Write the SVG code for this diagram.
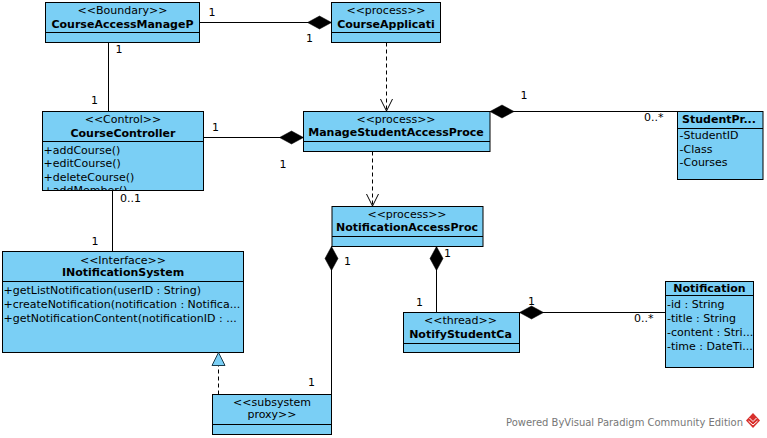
<svg xmlns="http://www.w3.org/2000/svg" width="767" height="438" viewBox="0 0 767 438">
  <style>
    .box { fill: #7ACFF5; stroke: #000; stroke-width: 1; }
    .sep { stroke: #000; stroke-width: 1; fill: none; }
    .t { font-family: "DejaVu Sans", "Liberation Sans", sans-serif; font-size: 11px; fill: #000; }
    .b { font-weight: bold; }
    .c { text-anchor: middle; }
    .ln { stroke: #000; stroke-width: 1; fill: none; }
    .dash { stroke-dasharray: 4 3; }
    .wm { font-family: "DejaVu Sans", "Liberation Sans", sans-serif; font-size: 10px; fill: #777; }
  </style>
  <defs>
    <!-- filled composition diamond, drawn from the whole end outward -->
    <marker id="diamond" markerUnits="userSpaceOnUse" viewBox="-1 -8 26 16" markerWidth="26" markerHeight="16" refX="0" refY="0" orient="auto" overflow="visible">
      <polygon points="0,0 12,-6.5 24,0 12,6.5" fill="#000" stroke="#000" stroke-width="0.5"/>
    </marker>
    <!-- open dependency arrowhead -->
    <marker id="open" markerUnits="userSpaceOnUse" viewBox="-14 -8 16 16" markerWidth="16" markerHeight="16" refX="0" refY="0" orient="auto" overflow="visible">
      <polyline points="-12,-6 0,0 -12,6" fill="none" stroke="#000" stroke-width="1"/>
    </marker>
    <!-- hollow realization triangle -->
    <marker id="tri" markerUnits="userSpaceOnUse" viewBox="-15 -8 16 16" markerWidth="16" markerHeight="16" refX="0" refY="0" orient="auto" overflow="visible">
      <polygon points="0,0 -13,-6.5 -13,6.5" fill="#7ACFF5" stroke="#1a3a4a" stroke-width="1"/>
    </marker>
    <clipPath id="ccBody">
      <rect x="43" y="142" width="160" height="48.5"/>
    </clipPath>
  </defs>

  <rect width="767" height="438" fill="#fff"/>

  <!-- classes -->
  <g id="CourseAccessManageP">
    <rect class="box" x="45.5" y="2.5" width="154" height="40"/>
    <line class="sep" x1="45.5" y1="32.5" x2="199.5" y2="32.5"/>
    <text class="t c" x="122.5" y="14">&lt;&lt;Boundary&gt;&gt;</text>
    <text class="t b c" x="122.5" y="28">CourseAccessManageP</text>
  </g>

  <g id="CourseApplicati">
    <rect class="box" x="331.5" y="2.5" width="109" height="40"/>
    <line class="sep" x1="331.5" y1="32.5" x2="440.5" y2="32.5"/>
    <text class="t c" x="386" y="14">&lt;&lt;process&gt;&gt;</text>
    <text class="t b c" x="386" y="28">CourseApplicati</text>
  </g>

  <g id="CourseController">
    <rect class="box" x="42.5" y="111.5" width="161" height="79"/>
    <line class="sep" x1="42.5" y1="141.5" x2="203.5" y2="141.5"/>
    <text class="t c" x="123" y="123">&lt;&lt;Control&gt;&gt;</text>
    <text class="t b c" x="123" y="137">CourseController</text>
    <g clip-path="url(#ccBody)">
      <text class="t" x="43.5" y="153.5">+addCourse()</text>
      <text class="t" x="43.5" y="167">+editCourse()</text>
      <text class="t" x="43.5" y="180.5">+deleteCourse()</text>
      <text class="t" x="43.5" y="194">+addMember()</text>
    </g>
  </g>

  <g id="ManageStudentAccessProce">
    <rect class="box" x="303.5" y="111.5" width="186.5" height="40"/>
    <line class="sep" x1="303.5" y1="141.5" x2="490" y2="141.5"/>
    <text class="t c" x="396" y="123">&lt;&lt;process&gt;&gt;</text>
    <text class="t b c" x="396" y="136">ManageStudentAccessProce</text>
  </g>

  <g id="StudentPr">
    <rect class="box" x="677.5" y="111.5" width="85.5" height="68"/>
    <line class="sep" x1="677.5" y1="128.5" x2="763" y2="128.5"/>
    <text class="t b c" x="719" y="123">StudentPr...</text>
    <text class="t" x="679.5" y="138.5">-StudentID</text>
    <text class="t" x="679.5" y="152.5">-Class</text>
    <text class="t" x="679.5" y="166">-Courses</text>
  </g>

  <g id="NotificationAccessProc">
    <rect class="box" x="332" y="206.5" width="151" height="40"/>
    <line class="sep" x1="332" y1="236.5" x2="483" y2="236.5"/>
    <text class="t c" x="407" y="218">&lt;&lt;process&gt;&gt;</text>
    <text class="t b c" x="407" y="231">NotificationAccessProc</text>
  </g>

  <g id="INotificationSystem">
    <rect class="box" x="2.5" y="251.5" width="241" height="101"/>
    <line class="sep" x1="2.5" y1="281.5" x2="243.5" y2="281.5"/>
    <text class="t c" x="123" y="263.5">&lt;&lt;Interface&gt;&gt;</text>
    <text class="t b c" x="123" y="276">INotificationSystem</text>
    <text class="t" x="3.5" y="293.5">+getListNotification(userID : String)</text>
    <text class="t" x="3.5" y="308">+createNotification(notification : Notifica...</text>
    <text class="t" x="3.5" y="322">+getNotificationContent(notificationID : ...</text>
  </g>

  <g id="NotifyStudentCa">
    <rect class="box" x="403.5" y="312.5" width="116" height="40"/>
    <line class="sep" x1="403.5" y1="343.5" x2="519.5" y2="343.5"/>
    <text class="t c" x="460.5" y="324">&lt;&lt;thread&gt;&gt;</text>
    <text class="t b c" x="460.5" y="337.5">NotifyStudentCa</text>
  </g>

  <g id="Notification">
    <rect class="box" x="665.5" y="281.5" width="88" height="86"/>
    <line class="sep" x1="665.5" y1="295.5" x2="753.5" y2="295.5"/>
    <text class="t b c" x="709.5" y="292">Notification</text>
    <text class="t" x="667" y="308">-id : String</text>
    <text class="t" x="667" y="322">-title : String</text>
    <text class="t" x="667" y="336">-content : Stri...</text>
    <text class="t" x="667" y="350">-time : DateTi...</text>
  </g>

  <g id="SubsystemProxy">
    <rect class="box" x="212.5" y="394.5" width="119" height="40"/>
    <line class="sep" x1="212.5" y1="424.5" x2="331.5" y2="424.5"/>
    <text class="t c" x="272" y="405.5">&lt;&lt;subsystem</text>
    <text class="t c" x="272" y="418">proxy&gt;&gt;</text>
  </g>

  <!-- connectors -->
  <g id="connectors">
    <path class="ln" d="M331.5,22.5 H199.5" marker-start="url(#diamond)"/>
    <path class="ln" d="M108.5,42.5 V111.5"/>
    <path class="ln" d="M303.5,137.5 H203.5" marker-start="url(#diamond)"/>
    <path class="ln" d="M490,111.5 H677.5" marker-start="url(#diamond)"/>
    <path class="ln dash" d="M386.5,42.5 V111" marker-end="url(#open)"/>
    <path class="ln dash" d="M372.5,151.5 V206" marker-end="url(#open)"/>
    <path class="ln" d="M112.5,190.5 V251.5"/>
    <path class="ln" d="M331.5,246.5 V394.5" marker-start="url(#diamond)"/>
    <path class="ln" d="M436.5,246.5 V312.5" marker-start="url(#diamond)"/>
    <path class="ln" d="M519.5,312.5 H665.5" marker-start="url(#diamond)"/>
    <path class="ln dash" d="M218.5,394.5 V352.5" marker-end="url(#tri)"/>

    <g class="t">
      <text x="208.5" y="16">1</text>
      <text x="306" y="42">1</text>
      <text x="115.5" y="53">1</text>
      <text x="91" y="104">1</text>
      <text x="212" y="131">1</text>
      <text x="279.5" y="168">1</text>
      <text x="520.5" y="99">1</text>
      <text x="644" y="121">0..*</text>
      <text x="120" y="202">0..1</text>
      <text x="91.5" y="245">1</text>
      <text x="344" y="265">1</text>
      <text x="444" y="257">1</text>
      <text x="416" y="306">1</text>
      <text x="528" y="305">1</text>
      <text x="634" y="322">0..*</text>
      <text x="308" y="386">1</text>
    </g>
  </g>

  <!-- footer -->
  <g id="footer">
    <text class="wm" x="506" y="425.5" textLength="237" lengthAdjust="spacingAndGlyphs">Powered ByVisual Paradigm Community Edition</text>
    <polygon points="753,413 760,420.5 753,428 746,420.5" fill="#d8302c"/>
    <polyline points="748.5,421 753,425 757.5,421" fill="none" stroke="#fff" stroke-width="1"/>
    <polyline points="749.5,418 753,421.5 756.5,418" fill="none" stroke="#fff" stroke-width="1"/>
  </g>
</svg>
